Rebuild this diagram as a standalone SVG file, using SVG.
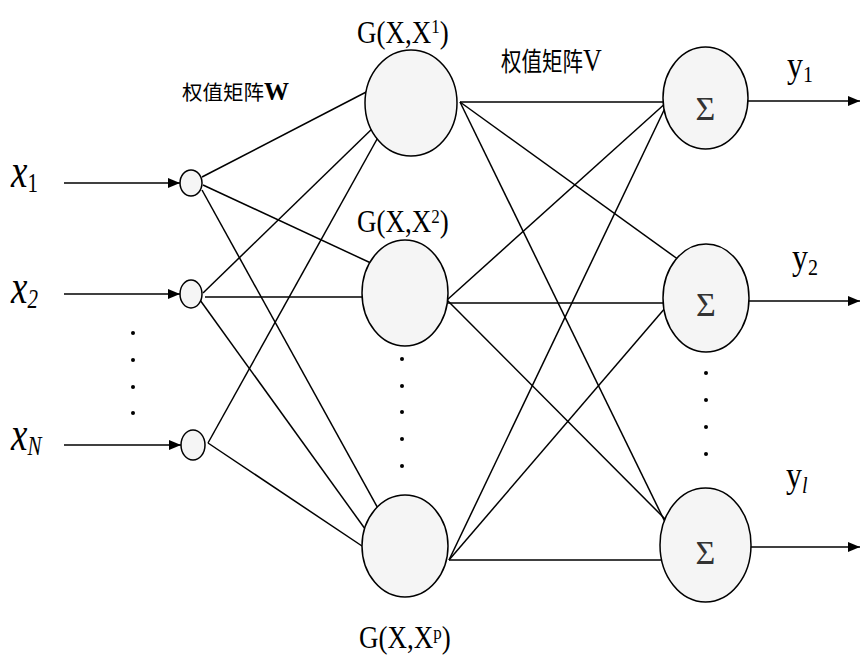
<svg xmlns="http://www.w3.org/2000/svg" width="860" height="657" viewBox="0 0 860 657">
<style>
.ln{stroke:#000;stroke-width:1.5;fill:none}
.nd{fill:#f5f5f5;stroke:#000;stroke-width:1.5}
.t{font-family:"Liberation Serif","Times New Roman",serif;fill:#000}
.it{font-style:italic}
.up{font-style:normal}
.cjk{font-family:"Liberation Serif","Noto Sans CJK SC",serif;font-size:20.5px;fill:#000}
.sig{font-family:"Liberation Serif","Times New Roman",serif;font-size:34px;fill:#333;text-anchor:middle}
.g{font-size:27px}
.sup{font-size:17px}
</style>
<defs>
<marker id="arr" markerUnits="userSpaceOnUse" markerWidth="12" markerHeight="10" refX="12" refY="5" orient="auto"><path d="M0,0 L12,5 L0,10 z" fill="#000"/></marker>
</defs>

<g id="connectors">
  <line class="ln" x1="64" y1="183" x2="180" y2="183" marker-end="url(#arr)"/>
  <line class="ln" x1="64" y1="294" x2="180" y2="294" marker-end="url(#arr)"/>
  <line class="ln" x1="64" y1="445" x2="181" y2="445" marker-end="url(#arr)"/>
  <line class="ln" x1="202" y1="177" x2="372" y2="89"/>
  <line class="ln" x1="203" y1="185" x2="373" y2="264"/>
  <line class="ln" x1="202" y1="190" x2="380" y2="512"/>
  <line class="ln" x1="203" y1="293" x2="376" y2="125"/>
  <line class="ln" x1="205" y1="297" x2="368" y2="297"/>
  <line class="ln" x1="200" y1="300" x2="368" y2="533"/>
  <line class="ln" x1="208" y1="443" x2="381" y2="132"/>
  <line class="ln" x1="208" y1="443" x2="368" y2="550"/>
  <line class="ln" x1="460" y1="102" x2="668" y2="102"/>
  <line class="ln" x1="460" y1="102" x2="679" y2="260"/>
  <line class="ln" x1="460" y1="102" x2="666" y2="524"/>
  <line class="ln" x1="447" y1="300" x2="668" y2="101"/>
  <line class="ln" x1="447" y1="303" x2="668" y2="303"/>
  <line class="ln" x1="447" y1="300" x2="668" y2="522"/>
  <line class="ln" x1="449" y1="560" x2="666" y2="106"/>
  <line class="ln" x1="449" y1="560" x2="672" y2="300"/>
  <line class="ln" x1="449" y1="560" x2="668" y2="560"/>
  <line class="ln" x1="748" y1="101" x2="860" y2="101" marker-end="url(#arr)"/>
  <line class="ln" x1="749" y1="301" x2="860" y2="301" marker-end="url(#arr)"/>
  <line class="ln" x1="751" y1="547" x2="860" y2="547" marker-end="url(#arr)"/>
</g>

<g id="in1">
  <ellipse class="nd" cx="191" cy="183" rx="11" ry="13"/>
  <text class="t it" font-size="37" transform="translate(11,187) scale(1,1.3)">x<tspan class="up" font-size="21" dy="4">1</tspan></text>
</g>
<g id="in2">
  <ellipse class="nd" cx="191" cy="294" rx="11" ry="14"/>
  <text class="t it" font-size="37" transform="translate(11,303) scale(1,1.3)">x<tspan font-size="21" dy="4">2</tspan></text>
</g>
<g id="inN">
  <ellipse class="nd" cx="193" cy="445" rx="12" ry="15"/>
  <text class="t it" font-size="37" transform="translate(11,450) scale(1,1.3)">x<tspan font-size="21" dy="4">N</tspan></text>
</g>

<g id="hid1">
  <ellipse class="nd" cx="411" cy="103" rx="46" ry="53"/>
  <text class="t g" transform="translate(357,43) scale(1,1.15)">G(X,X<tspan class="sup" dy="-9">1</tspan><tspan dy="9">)</tspan></text>
</g>
<g id="hid2">
  <ellipse class="nd" cx="405" cy="293" rx="43" ry="53"/>
  <text class="t g" transform="translate(357,232) scale(1,1.15)">G(X,X<tspan class="sup" dy="-8">2</tspan><tspan dy="8">)</tspan></text>
</g>
<g id="hidp">
  <ellipse class="nd" cx="405" cy="546" rx="43" ry="51"/>
  <text class="t g" transform="translate(359,648) scale(1,1.15)">G(X,X<tspan class="sup" dy="-8">p</tspan><tspan dy="8">)</tspan></text>
</g>

<g id="out1">
  <ellipse class="nd" cx="705.5" cy="98" rx="42.5" ry="51"/>
  <text class="sig" x="705.5" y="120">Σ</text>
  <text class="t" font-size="32" transform="translate(787,77) scale(1,1.15)">y<tspan font-size="20" dy="4.5">1</tspan></text>
</g>
<g id="out2">
  <ellipse class="nd" cx="706" cy="298" rx="43" ry="54"/>
  <text class="sig" x="706" y="316">Σ</text>
  <text class="t" font-size="32" transform="translate(792,269) scale(1,1.15)">y<tspan font-size="20" dy="5">2</tspan></text>
</g>
<g id="outl">
  <ellipse class="nd" cx="705.5" cy="545" rx="45.5" ry="57"/>
  <text class="sig" x="705.5" y="564">Σ</text>
  <text class="t" font-size="32" transform="translate(786,487) scale(1,1.15)">y<tspan class="it" font-size="20" dy="5">l</tspan></text>
</g>

<g id="labels">
  <text class="cjk" x="182" y="100">权值矩阵<tspan font-size="25" font-weight="bold">W</tspan></text>
  <text class="cjk" transform="translate(501,71) scale(1,1.25)">权值矩阵<tspan font-size="26">V</tspan></text>
</g>

<g id="dots" fill="#000">
  <circle cx="133" cy="333" r="2"/>
  <circle cx="133" cy="360" r="2"/>
  <circle cx="133" cy="387" r="2"/>
  <circle cx="133" cy="413" r="2"/>
  <circle cx="402" cy="359" r="2"/>
  <circle cx="402" cy="386" r="2"/>
  <circle cx="402" cy="412" r="2"/>
  <circle cx="402" cy="439" r="2"/>
  <circle cx="402" cy="466" r="2"/>
  <circle cx="706" cy="373" r="2"/>
  <circle cx="706" cy="400" r="2"/>
  <circle cx="706" cy="427" r="2"/>
  <circle cx="706" cy="454" r="2"/>
</g>
</svg>
